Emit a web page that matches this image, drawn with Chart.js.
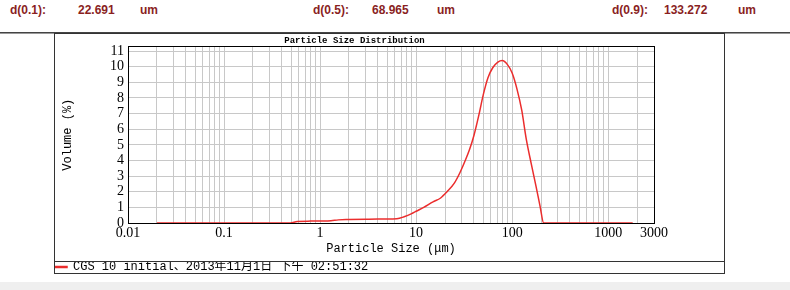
<!DOCTYPE html>
<html>
<head>
<meta charset="utf-8">
<script src="https://cdn.jsdelivr.net/npm/chart.js@4"></script>
<style>
  body { margin: 0; width: 790px; height: 290px; background: #fff; position: relative; overflow: hidden; }
  .hd { position: absolute; top: 3px; font: bold 12px "Liberation Sans", Arial, sans-serif; color: #8a1f1f; }
  #rule { position: absolute; left: 0; top: 32px; width: 790px; height: 0; border-top: 1px solid #444; border-bottom: 1px solid #999; }
  #box { position: absolute; left: 54px; top: 33px; width: 669px; height: 239px; border: 1px solid #333; }
  #divider { position: absolute; left: 0; top: 227px; width: 669px; height: 0; border-top: 1px solid #333; }
  #band { position: absolute; left: 0; top: 282px; width: 790px; height: 8px; background: #efefef; }
</style>
</head>
<body>
<div id="header"></div>
<div id="rule"></div>
<div id="box">
  <canvas id="psd" width="669" height="239"></canvas>
  <div id="divider"></div>
</div>
<div id="band"></div>

<script>
// ---------------------------
// DATA
// ---------------------------
const dNames = ["d(0.1):", "d(0.5):", "d(0.9):"];
const dValues = ["22.691", "68.965", "133.272"];
const dUnit = "um";

// particle size (um) and volume (%)
const sizes = [0.02, 0.05, 0.1, 0.2, 0.4, 0.49, 0.58, 0.8, 1.0, 1.3, 1.55, 2.0, 3.0, 4.0, 5.0, 6.3,
  7.5, 9, 10, 12, 15, 18, 21, 25, 28.5, 32, 36, 40, 45, 50, 56, 63, 71, 79, 89, 100,
  112, 126, 140, 158, 178, 195, 213, 240, 400, 800, 1800];
const volumes = [0, 0, 0, 0, 0, 0, 0.1, 0.12, 0.13, 0.15, 0.2, 0.22, 0.24, 0.25, 0.25, 0.27,
  0.4, 0.6, 0.75, 1.0, 1.35, 1.6, 2.0, 2.55, 3.2, 3.9, 4.7, 5.6, 6.9, 8.2, 9.3, 9.95, 10.3, 10.4, 10.15, 9.6,
  8.6, 7.2, 5.4, 3.8, 2.3, 1.1, 0, 0, 0, 0, 0];

const seriesName = "CGS 10 initial、2013年11月1日 下午 02:51:32";
const xLabelValues = [0.01, 0.1, 1, 10, 100, 1000, 3000];
const yTickValues = [0, 1, 2, 3, 4, 5, 6, 7, 8, 9, 10, 11];

// ---------------------------
// HEADER (d values)
// ---------------------------
const headerX = [[10, 78, 140], [313, 372, 437], [612, 664, 738]];
let header = document.getElementById("header");
dNames.forEach((n, i) => {
  [n, dValues[i], dUnit].forEach((t, j) => {
    let s = document.createElement("div");
    s.className = "hd";
    s.style.left = headerX[i][j] + "px";
    s.textContent = t;
    header.appendChild(s);
  });
});

// log grid: 1..9 x 10^k, plus the 3000 end
let gridValues = [];
for (let e = -2; e <= 3; e++) {
  for (let m = 1; m <= 9; m++) {
    let v = Number((m * Math.pow(10, e)).toPrecision(3));
    if (v < 3000) gridValues.push(v);
  }
}
gridValues.push(3000);

// frame round the plot area
const frame = {
  id: "frame",
  beforeDatasetsDraw(chart) {
    const a = chart.chartArea, ctx = chart.ctx;
    ctx.save();
    ctx.strokeStyle = "#000";
    ctx.lineWidth = 1;
    ctx.strokeRect(Math.round(a.left) + 0.5, Math.round(a.top) + 0.5,
      Math.round(a.right - a.left), Math.round(a.bottom - a.top));
    ctx.restore();
  }
};

const tickFont = { family: "'Liberation Serif', serif", size: 14 };
const monoFont = { family: "'Liberation Mono', 'Noto Sans CJK SC', monospace", size: 12 };

Chart.defaults.color = "#000";
Chart.defaults.animation = false;

new Chart(document.getElementById("psd"), {
  type: "line",
  data: {
    datasets: [{
      label: seriesName,
      data: sizes.map((s, i) => ({ x: s, y: volumes[i] })),
      borderColor: "rgb(235,45,45)",
      backgroundColor: "rgb(235,45,45)",
      borderWidth: 1.5,
      pointRadius: 0,
      cubicInterpolationMode: "monotone"
    }]
  },
  options: {
    responsive: false,
    layout: { padding: { left: 0, right: 70, top: 0, bottom: 0 } },
    plugins: {
      title: {
        display: true,
        text: "Particle Size Distribution",
        font: { family: "'Liberation Mono', monospace", size: 9, weight: "bold", lineHeight: 0.9 },
        padding: { top: 0, bottom: 2 },
        color: "#000"
      },
      legend: {
        position: "bottom",
        align: "start",
        maxHeight: 12,
        labels: { boxWidth: 12, boxHeight: 1, padding: 0, font: monoFont, color: "#000" }
      },
      tooltip: { enabled: false }
    },
    scales: {
      x: {
        type: "logarithmic",
        min: 0.01,
        max: 3000,
        afterBuildTicks: s => { s.ticks = gridValues.map(v => ({ value: v })); },
        afterFit: s => { s.height = 38; },
        ticks: {
          autoSkip: false, maxRotation: 0, padding: 2, font: tickFont,
          callback: v => xLabelValues.includes(v) ? String(v) : ""
        },
        grid: { color: "#c8c8c8", drawTicks: false },
        border: { color: "#000" },
        title: { display: true, text: "Particle Size (μm)", font: monoFont, padding: { top: 0, bottom: 5 } }
      },
      y: {
        min: 0,
        max: 11.3,
        afterBuildTicks: s => { s.ticks = yTickValues.map(v => ({ value: v })); },
        afterFit: s => { s.width = 73; },
        ticks: { autoSkip: false, padding: 4, font: tickFont },
        grid: { color: "#c8c8c8", drawTicks: false },
        border: { color: "#000" },
        title: { display: true, text: "Volume (%)", font: monoFont, padding: { top: 6, bottom: 0 } }
      }
    }
  },
  plugins: [frame]
});
</script>
</body>
</html>
